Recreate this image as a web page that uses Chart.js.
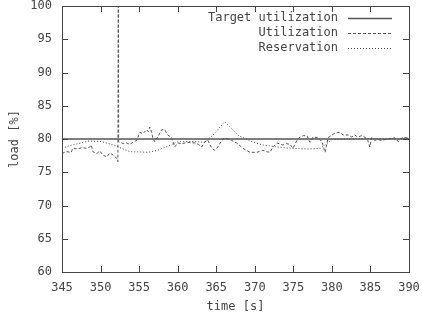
<!DOCTYPE html>
<html>
<head>
<meta charset="utf-8">
<script src="https://cdn.jsdelivr.net/npm/chart.js@4/dist/chart.umd.min.js"></script>
<style>
html,body{margin:0;padding:0;background:#fff;}
#wrap{width:422px;height:320px;}
</style>
</head>
<body>
<div id="wrap"><canvas id="c" width="422" height="320"></canvas></div>
<script>
const xTicks = [345, 350, 355, 360, 365, 370, 375, 380, 385, 390];
const yTicks = [60, 65, 70, 75, 80, 85, 90, 95, 100];
const seriesNames = ["Target utilization", "Utilization", "Reservation"];

const targetTime = [345, 390];
const targetLoad = [80, 80];

const utilTime = [345.0, 345.5, 346.2, 346.4, 347.0, 347.6, 348.2, 348.6, 348.8, 349.0, 349.5, 349.9, 350.3, 350.8, 351.2, 351.6, 352.1, 352.25, 352.3, 352.35, 352.48, 353.0, 353.39, 353.8, 354.17, 354.69, 355.08, 355.5, 355.99, 356.2, 356.38, 356.63, 356.76, 357.02, 357.41, 357.93, 358.32, 358.71, 359.23, 359.62, 360.01, 360.53, 361.31, 362.22, 362.7, 363.13, 363.52, 363.91, 364.43, 364.82, 365.21, 365.73, 366.12, 366.51, 367.0, 367.42, 367.68, 368.46, 369.37, 370.27, 371.05, 371.5, 371.96, 372.35, 372.87, 373.65, 374.1, 374.56, 374.95, 375.47, 375.86, 376.3, 376.77, 377.16, 377.55, 378.2, 378.72, 379.11, 379.37, 379.5, 380.02, 380.41, 381.06, 381.45, 382.1, 382.57, 382.96, 383.35, 383.87, 384.26, 384.65, 384.91, 385.17, 385.56, 386.0, 386.47, 387.25, 388.16, 388.6, 389.07, 389.72, 390.0];
const utilLoad = [77.8, 78.1, 78.0, 78.6, 78.5, 78.7, 78.6, 78.8, 79.1, 78.1, 77.8, 78.2, 77.6, 77.3, 77.9, 77.6, 77.1, 76.6, 106, 79.6, 79.5, 79.3, 79.4, 79.2, 79.5, 79.8, 81.0, 80.8, 81.4, 81.1, 81.8, 81.0, 80.2, 79.6, 80.3, 81.4, 81.4, 80.6, 80.2, 78.8, 79.4, 79.3, 79.5, 79.4, 79.2, 78.8, 79.6, 79.8, 78.6, 78.3, 78.8, 79.8, 80.2, 80.0, 79.8, 79.5, 79.4, 78.6, 78.0, 78.0, 78.3, 78.1, 78.0, 78.8, 79.4, 79.1, 79.3, 79.2, 78.6, 79.8, 80.3, 80.5, 80.5, 79.5, 80.3, 80.2, 79.6, 78.0, 79.4, 80.2, 80.6, 80.9, 81.0, 80.6, 80.6, 80.3, 80.6, 80.3, 80.5, 80.3, 79.8, 78.8, 80.2, 79.8, 79.9, 79.8, 80.0, 80.2, 79.6, 80.2, 80.2, 80.1];

const resTime = [345.0, 346.0, 348.5, 350.2, 351.7, 352.3, 353.8, 356.2, 357.4, 358.7, 360.0, 362.5, 363.5, 364.6, 366.1, 367.9, 368.5, 369.4, 371.0, 373.0, 374.6, 377.0, 378.5, 379.0, 380.0, 382.0, 385.0, 388.0, 390.0];
const resLoad = [78.6, 79.0, 79.7, 79.6, 79.1, 78.8, 78.1, 78.0, 78.3, 78.9, 79.6, 79.6, 79.5, 80.6, 82.6, 80.5, 80.2, 79.7, 79.1, 78.8, 78.6, 78.5, 78.6, 79.0, 79.9, 80.0, 80.1, 80.0, 80.1];

const FONT = "'DejaVu Sans Mono', 'Liberation Mono', monospace";
const TXT = '#444';

function pts(xs, ys){ return xs.map((x,i)=>({x:x, y:ys[i]})); }

const boxPlugin = {
  id: 'gnuBox',
  afterDatasetsDraw(chart){
    const ctx = chart.ctx, a = chart.chartArea;
    const xs = chart.scales.x, ys = chart.scales.y;
    ctx.save();
    ctx.strokeStyle = '#444';
    ctx.lineWidth = 1;
    ctx.setLineDash([]);
    ctx.strokeRect(Math.round(a.left)+0.5, Math.round(a.top)+0.5, Math.round(a.right-a.left), Math.round(a.bottom-a.top));
    const L = 6;
    ctx.beginPath();
    xTicks.forEach(v=>{
      const px = Math.round(xs.getPixelForValue(v))+0.5;
      ctx.moveTo(px, a.bottom); ctx.lineTo(px, a.bottom-L);
      ctx.moveTo(px, a.top); ctx.lineTo(px, a.top+L);
    });
    yTicks.forEach(v=>{
      const py = Math.round(ys.getPixelForValue(v))+0.5;
      ctx.moveTo(a.left, py); ctx.lineTo(a.left+L, py);
      ctx.moveTo(a.right, py); ctx.lineTo(a.right-L, py);
    });
    ctx.stroke();
    // legend
    ctx.font = '12px ' + FONT;
    ctx.fillStyle = TXT;
    ctx.textAlign = 'right';
    ctx.textBaseline = 'middle';
    chart.data.datasets.forEach((ds, i)=>{
      const y = 18 + i*15;
      ctx.fillText(ds.label, 338, y);
      ctx.beginPath();
      ctx.strokeStyle = ds.borderColor;
      ctx.lineWidth = ds.borderWidth;
      ctx.setLineDash(ds.borderDash || []);
      ctx.moveTo(348, Math.round(y)+0.5);
      ctx.lineTo(392, Math.round(y)+0.5);
      ctx.stroke();
    });
    ctx.restore();
  }
};

new Chart(document.getElementById('c'), {
  type: 'line',
  data: {
    datasets: [
      { label: seriesNames[0], data: pts(targetTime, targetLoad), borderColor: '#555', borderWidth: 1.5, pointRadius: 0, tension: 0 },
      { label: seriesNames[1], data: pts(utilTime, utilLoad), borderColor: '#555', borderWidth: 1, borderDash: [3, 2], pointRadius: 0, tension: 0 },
      { label: seriesNames[2], data: pts(resTime, resLoad), borderColor: '#444', borderWidth: 1, borderDash: [1, 2], pointRadius: 0, tension: 0 }
    ]
  },
  options: {
    responsive: false,
    animation: false,
    events: [],
    layout: { padding: { left: 0, right: 13, top: 6, bottom: 0 } },
    plugins: { legend: { display: false }, tooltip: { enabled: false } },
    scales: {
      x: {
        type: 'linear', min: 345, max: 390,
        afterBuildTicks: s => { s.ticks = xTicks.map(v=>({value:v})); },
        afterFit: s => { s.height = 48; s.paddingLeft = 0; s.paddingRight = 0; },
        grid: { display: false, drawTicks: false },
        border: { display: false },
        ticks: { color: TXT, font: { family: FONT, size: 12 }, padding: 9, maxRotation: 0, autoSkip: false },
        title: { display: true, text: 'time [s]', color: TXT, font: { family: FONT, size: 12 }, padding: { top: 4, bottom: 6 } }
      },
      y: {
        type: 'linear', min: 60, max: 100,
        afterBuildTicks: s => { s.ticks = yTicks.map(v=>({value:v})); },
        afterFit: s => { s.width = 62; s.paddingTop = 0; s.paddingBottom = 0; },
        grid: { display: false, drawTicks: false },
        border: { display: false },
        ticks: { color: TXT, font: { family: FONT, size: 12 }, padding: 10, autoSkip: false },
        title: { display: true, text: 'load [%]', color: TXT, font: { family: FONT, size: 12 }, padding: { top: 8, bottom: 0 } }
      }
    }
  },
  plugins: [boxPlugin]
});
</script>
</body>
</html>
